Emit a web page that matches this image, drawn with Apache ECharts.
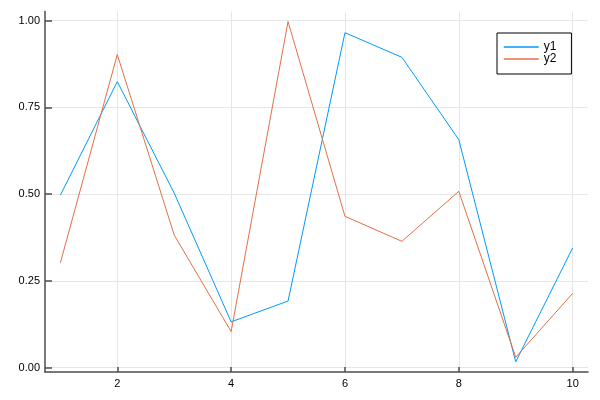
<!DOCTYPE html>
<html>
<head>
<meta charset="utf-8">
<script src="https://cdn.jsdelivr.net/npm/echarts@6/dist/echarts.min.js"></script>
<style>html,body{margin:0;padding:0;background:#fff}#c{width:600px;height:400px}</style>
</head>
<body>
<div id="c"></div>
<script>
const xValues = [1, 2, 3, 4, 5, 6, 7, 8, 9, 10];
const y1 = [0.497, 0.824, 0.503, 0.132, 0.192, 0.965, 0.894, 0.657, 0.017, 0.345];
const y2 = [0.302, 0.902, 0.382, 0.104, 0.997, 0.436, 0.364, 0.508, 0.030, 0.214];
const xTicks = [2, 4, 6, 8, 10];
const yTicks = [0, 0.25, 0.5, 0.75, 1.0];
const seriesNames = ['y1', 'y2'];
const colors = ['#009AFA', '#E36F47'];

const font = 'Liberation Sans, Arial, Helvetica, sans-serif';
const chart = echarts.init(document.getElementById('c'), null, {renderer: 'canvas'});
const axisLineStyle = {color: '#4d4d4d', width: 1.5};
const gridStyle = {color: '#e6e6e6', width: 1};
chart.setOption({
  animation: false,
  backgroundColor: '#fff',
  grid: {left: 45, right: 12, top: 11.5, bottom: 28, containLabel: false},
  xAxis: {
    type: 'value', min: 0.73, max: 10.27,
    axisLine: {show: true, onZero: false, lineStyle: axisLineStyle},
    axisTick: {show: true, inside: true, length: 5, customValues: xTicks, lineStyle: axisLineStyle},
    axisLabel: {customValues: xTicks, color: '#000', fontSize: 11, fontFamily: font, margin: 6,
      formatter: v => String(v)},
    splitLine: {show: true, lineStyle: gridStyle}
  },
  yAxis: {
    type: 'value', min: -0.0124, max: 1.026,
    axisLine: {show: true, onZero: false, lineStyle: axisLineStyle},
    axisTick: {show: true, inside: true, length: 7, customValues: yTicks, lineStyle: axisLineStyle},
    axisLabel: {customValues: yTicks, color: '#000', fontSize: 11, fontFamily: font, margin: 5,
      formatter: v => v.toFixed(2)},
    splitLine: {show: true, lineStyle: gridStyle}
  },
  legend: {
    left: 497, top: 33, orient: 'vertical',
    padding: [8, 15, 9, 6], itemGap: 0, itemWidth: 35, itemHeight: 14,
    borderColor: '#000', borderWidth: 1, backgroundColor: '#fff',
    itemStyle: {opacity: 0},
    lineStyle: {width: 1.5},
    textStyle: {color: '#000', fontSize: 12, fontFamily: font},
    data: seriesNames
  },
  series: [y1, y2].map((ys, i) => ({
    name: seriesNames[i], type: 'line', symbol: 'none',
    color: colors[i],
    lineStyle: {color: colors[i], width: 1},
    data: xValues.map((x, j) => [x, ys[j]])
  }))
});
</script>
</body>
</html>
